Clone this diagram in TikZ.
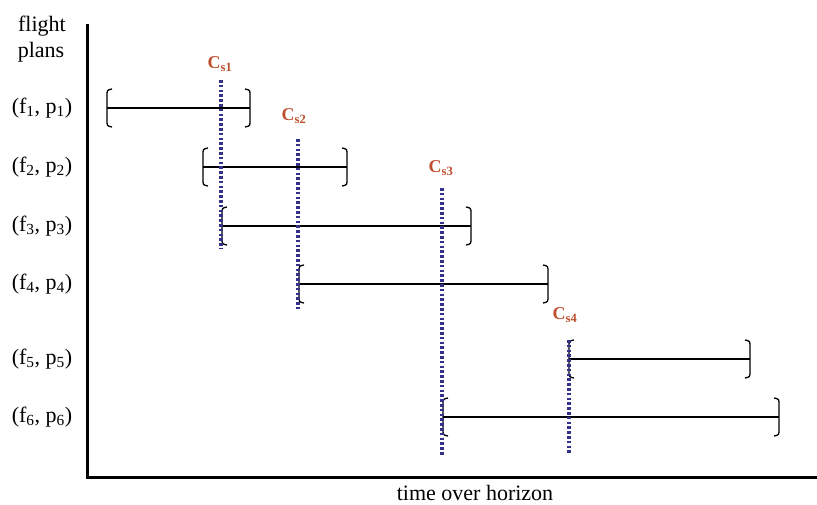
\documentclass[tikz,border=0pt]{standalone}
\usepackage{fontspec}
\setmainfont{Liberation Serif}
\definecolor{conred}{RGB}{190,78,45}
\definecolor{dotblue}{RGB}{50,50,140}
\begin{document}
\begin{tikzpicture}[x=1pt,y=-1pt,
  axis/.style={line width=3pt,black},
  span/.style={line width=1.3pt,black},
  brk/.style={line width=1.3pt,black},
  conf/.style={line width=3.3pt,dotblue,dash pattern=on 2.6pt off 2.2pt},
  rowlab/.style={font=\fontsize{22}{24}\selectfont,inner sep=0pt},
  axlab/.style={font=\fontsize{22}{24}\selectfont,inner sep=0pt},
  conlab/.style={font=\fontsize{18}{20}\selectfont\bfseries,text=conred,inner sep=0pt}]
\useasboundingbox (0,0) rectangle (817,504);
% axes
\coordinate (otop) at (87,24);
\coordinate (orig) at (87,477);
\coordinate (xend) at (817,477);
\draw[axis] (otop) -- (orig) -- (xend);
\node[axlab] (fl) at (42,26) {flight};
\node[axlab] (pl) at (41,52) {plans};
\node[axlab] (th) at (475,493) {time over horizon};
% row labels
\foreach \i/\y in {1/108,2/167,3/226,4/284,5/359,6/417}{
  \node[rowlab] (r\i) at (42,\y) {(f\textsubscript{\i}, p\textsubscript{\i})};
}
% intervals
\foreach \i/\a/\b/\y in {1/107/250/108,2/203/347/167,3/222/471/226,4/299/548/284,5/569/750/359,6/443/779/417}{
  \coordinate (L\i) at (\a,\y);
  \coordinate (R\i) at (\b,\y);
  \draw[span] (L\i) -- (R\i);
  \draw[brk] ([shift={(5,-19)}]L\i) .. controls ([shift={(0,-18)}]L\i) .. ([shift={(0,-12)}]L\i)
     -- ([shift={(0,12)}]L\i) .. controls ([shift={(0,18)}]L\i) .. ([shift={(5,19)}]L\i);
  \draw[brk] ([shift={(-5,-19)}]R\i) .. controls ([shift={(0,-18)}]R\i) .. ([shift={(0,-12)}]R\i)
     -- ([shift={(0,12)}]R\i) .. controls ([shift={(0,18)}]R\i) .. ([shift={(-5,19)}]R\i);
}
% conflict lines
\node[conlab] (c1) at (220,64) {C\textsubscript{s1}};
\node[conlab] (c2) at (294,116) {C\textsubscript{s2}};
\node[conlab] (c3) at (441,168) {C\textsubscript{s3}};
\node[conlab] (c4) at (565,315) {C\textsubscript{s4}};
\coordinate (e1) at (221,249);
\coordinate (e2) at (298,309);
\coordinate (e3) at (442,455);
\coordinate (e4) at (569,453);
\draw[conf] (221,80) -- (e1);
\draw[conf] (298,139) -- (e2);
\draw[conf] (442,188) -- (e3);
\draw[conf] (569,340) -- (e4);
\end{tikzpicture}
\end{document}
